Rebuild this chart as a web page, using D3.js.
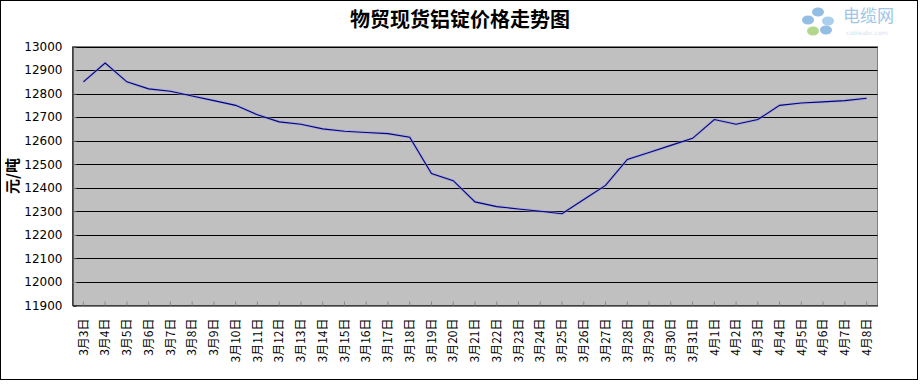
<!DOCTYPE html>
<html><head><meta charset="utf-8">
<script src="https://cdn.jsdelivr.net/npm/d3@7/dist/d3.min.js"></script>
<style>body{margin:0;background:#fff}svg{display:block}</style>
</head><body><svg id="c" width="920" height="384"></svg>
<script>
const categories = ["3月3日","3月4日","3月5日","3月6日","3月7日","3月8日","3月9日","3月10日","3月11日","3月12日","3月13日","3月14日","3月15日","3月16日","3月17日","3月18日","3月19日","3月20日","3月21日","3月22日","3月23日","3月24日","3月25日","3月26日","3月27日","3月28日","3月29日","3月30日","3月31日","4月1日","4月2日","4月3日","4月4日","4月5日","4月6日","4月7日","4月8日"];
const prices = [12850,12930,12850,12820,12810,12790,12770,12750,12710,12680,12670,12650,12640,12635,12630,12615,12460,12430,12340,12320,12310,12300,12290,12350,12410,12520,12550,12580,12610,12690,12670,12690,12750,12760,12765,12770,12780];
const yTicks = [11900,12000,12100,12200,12300,12400,12500,12600,12700,12800,12900,13000];
const title = "物贸现货铝锭价格走势图";
const yTitle = "元/吨";

const svg = d3.select("#c");
const L = 72.5, R = 877.5, T = 46.5, B = 305.5;

svg.append("rect").attr("x",0.5).attr("y",0.5).attr("width",917).attr("height",379)
  .attr("fill","#fff").attr("stroke","#000").attr("stroke-width",1);

const x = d3.scaleBand().domain(categories).range([L, R]);
const y = d3.scaleLinear().domain([11900, 13000]).range([B, T]);

svg.append("rect").attr("x",L).attr("y",T).attr("width",R-L).attr("height",B-T)
  .attr("fill","#c0c0c0").attr("stroke","#808080");

// gridlines
svg.append("g").selectAll("line").data(yTicks.filter(v=>v>11900)).join("line")
  .attr("x1",L).attr("x2",R).attr("y1",d=>Math.round(y(d))+0.5).attr("y2",d=>Math.round(y(d))+0.5)
  .attr("stroke","#000").attr("stroke-width",1);

// y axis
const ya = svg.append("g").attr("transform",`translate(${L},0)`)
  .call(d3.axisLeft(y).tickValues(yTicks).tickSize(-4).tickPadding(10).tickFormat(d3.format("d")));
ya.select(".domain").attr("stroke","#000");
ya.selectAll(".tick line").attr("stroke","#888");
ya.selectAll("text").attr("font-family","DejaVu Sans").attr("font-size",12).attr("fill","#000");

// x axis
const xa = svg.append("g").attr("transform",`translate(0,${B})`)
  .call(d3.axisBottom(x).tickSize(-4).tickSizeOuter(0).tickPadding(0));
xa.select(".domain").attr("stroke","#000");
xa.selectAll(".tick line").attr("stroke","#888");
xa.selectAll("text")
  .attr("font-family","'Noto Sans CJK SC', sans-serif").attr("font-size",12).attr("fill","#000")
  .attr("text-anchor","end").attr("dy","0.35em")
  .attr("transform","translate(0,13) rotate(-90)");

// line
const line = d3.line().x((d,i)=>x(categories[i])+x.bandwidth()/2).y(d=>y(d));
svg.append("path").datum(prices).attr("d",line).attr("fill","none")
  .attr("stroke","#9b9be0").attr("stroke-width",3).attr("opacity",0.5);
svg.append("path").datum(prices).attr("d",line).attr("fill","none")
  .attr("stroke","#000080").attr("stroke-width",1.1);

// title
svg.append("text").attr("x",460).attr("y",27).attr("text-anchor","middle")
  .attr("font-family","'Noto Sans CJK SC', sans-serif").attr("font-size",20).attr("font-weight","bold")
  .text(title);

// y title
svg.append("text").attr("transform",`translate(18,${(T+B)/2}) rotate(-90)`).attr("text-anchor","middle")
  .attr("font-family","'Noto Sans CJK SC', sans-serif").attr("font-size",15).attr("font-weight","bold")
  .text(yTitle);

// watermark logo
const lg = svg.append("g").attr("opacity",0.75);
const petals = [[818,12,"#6fa8dc"],[808,20,"#6fa8dc"],[828,21,"#8fc0e8"],[813,31,"#9ccc65"],[826,30,"#6fa8dc"]];
lg.selectAll("ellipse").data(petals).join("ellipse")
  .attr("cx",d=>d[0]).attr("cy",d=>d[1]).attr("rx",6).attr("ry",4.5).attr("fill",d=>d[2]);
lg.append("circle").attr("cx",818).attr("cy",22).attr("r",2).attr("fill","#fff");
lg.append("text").attr("x",843).attr("y",22).attr("font-family","'Noto Sans CJK SC', sans-serif")
  .attr("font-size",17).attr("fill","#7fb2e0").text("电缆网");
lg.append("text").attr("x",846).attr("y",35).attr("font-family","DejaVu Sans")
  .attr("font-size",6).attr("fill","#bcd8ee").text("cableabc.com");
</script></body></html>
